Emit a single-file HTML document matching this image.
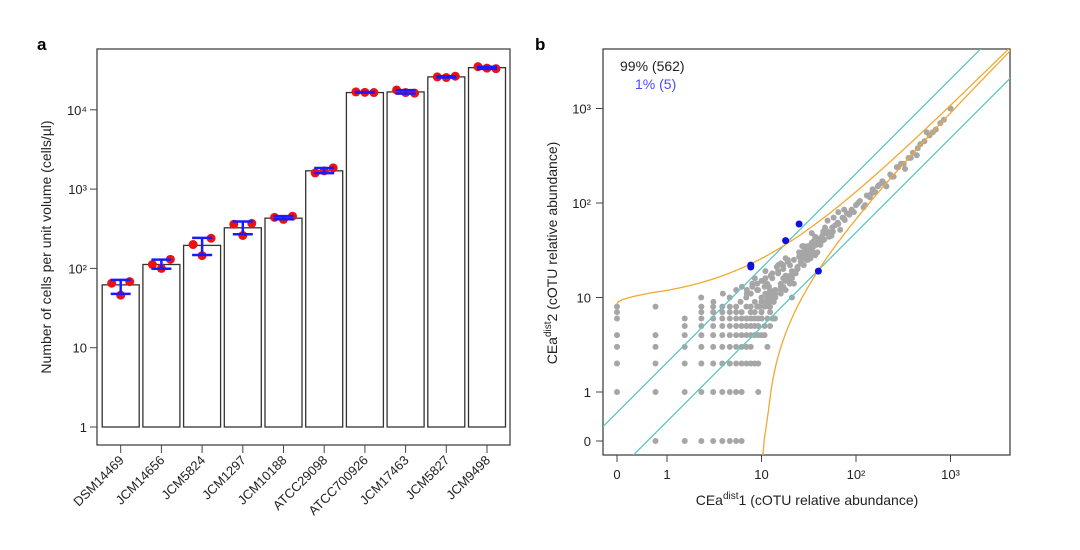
<!DOCTYPE html>
<html><head><meta charset="utf-8">
<style>
html,body{margin:0;padding:0;background:#fff;}
svg{display:block;font-family:"Liberation Sans",Arial,sans-serif;}
</style></head>
<body>
<svg id="fig" width="1080" height="550" viewBox="0 0 1080 550">
<text x="37" y="50" font-size="17" font-weight="bold">a</text>
<text x="535" y="50" font-size="17" font-weight="bold">b</text>
<g id="pa"></g>
<g id="pb"></g>
</svg>
<script>
// ---------- Panel A data ----------
const strains = ["DSM14469","JCM14656","JCM5824","JCM1297","JCM10188","ATCC29098","ATCC700926","JCM17463","JCM5827","JCM9498"];
const barValues = [62,112,195,325,430,1700,16500,16800,26000,34000];
const rep1 = [65,112,200,360,440,1600,16800,17800,26000,35000];
const rep2 = [68,130,240,370,455,1850,16500,16200,26500,33000];
const rep3 = [46,100,145,260,415,1700,16600,16500,25500,33500];
const yTicksA = [1,10,100,1000,10000];
const yTickLabelsA = ["1","10","10²","10³","10⁴"];

// ---------- Panel B data ----------
const bTicks = [0,1,10,100,1000];
const bTickLabels = ["0","1","10","10²","10³"];
const gridRowsY = [0,1,2,3,4,5,6,7,8];
const gridCols = [
 [1,2,3,4,5,6,7,8],
 [0,1,2,3,4,5,6,7,8,12],
 [0,1,2,3,4,5,6,7,8,9,10,11,12],
 [0,1,2,3,4,5,6,7,8,9,10,15],
 [0,1,2,3,4,5,6,7,8,9,10,11,12,13,14],
 [2,3,4,5,6,7,8,9,10,11,12,14,16],
 [0,2,3,4,5,6,7,8,9,10,11,12,13,15,17,18],
 [0,3,4,5,6,7,8,10,11,13,16],
 [0,1,3,4,5,6,7,9,10,12,14,16]
];
const gridStep = 0.77;
const cloudX = [2.3,3.1,3.9,4.6,5.4,6.2,6.9,7.7,8.5,9.2,10,10.8,11.5,12.3,13,
 6,7,8,9,10,11,12,13,14,15,16,17,18,19,20,21,22,23,24,25,26,27,28,29,30,31,32,33,34,35,36,
 38,40,42,44,46,48,50,53,56,60,64,68,72,76,80,85,90,95,100,
 110,120,130,140,150,160,175,190,210,230,250,270,300,330,360,400,440,480,530,600,650,700,780,850,1000,
 12,14,16,18,20,22,24,15,17,19,21,9,11,13,25,28,31,34,37,
 45,55,65,75,90,105,125,145,170,200,240,280,320,380,450,560,
 8,9,10,11,12,13,14,15,16,17,18,19,20,22,24,26,28,30,32,35,38,
 9.5,10.5,11.5,12.5,13.5,14.5,16,18,20,23,26,29,33,37,42,47,52,58,
 7,8.5,10,11,12,14,16,17,19,21,24,27,30,34,39,44,50,57,65,75];
const cloudY = [10,9,11,10,12,13,10,11,9,12,10,13,14,12,10,
 9,11,14,12,15,11,13,16,12,18,14,20,17,15,22,19,25,18,21,27,24,30,26,33,28,35,31,29,38,34,40,
 36,42,39,45,41,48,50,47,55,58,62,52,70,66,78,75,85,80,95,
 105,90,120,115,140,130,155,170,150,200,190,240,260,230,300,340,320,420,450,520,560,600,700,760,1000,
 9,12,11,15,17,14,20,22,16,24,10,8,9,11,30,35,25,32,28,
 50,45,60,68,82,100,95,125,150,160,190,240,260,300,380,560,
 13,14,9,16,8,18,11,19,13,22,12,24,15,18,20,28,22,25,33,30,40,
 8,15,10,17,9,21,12,26,14,19,23,30,26,44,36,55,44,70,
 12,16,7,19,11,10,23,13,25,16,20,35,28,48,30,40,65,50,80,85];
const blueX = [7.7,7.7,18,25,40];
const blueY = [22,21,40,60,19];
const upperA = 2.3, upperD = 8.6, lowerA = 3.26, bandK = 2.05;

const NS="http://www.w3.org/2000/svg";
function mk(parent,tag,attrs){const e=document.createElementNS(NS,tag);for(const k in attrs)e.setAttribute(k,attrs[k]);parent.appendChild(e);return e;}

// ===== Panel A =====
(function(){
 const g=document.getElementById('pa');
 const L=97,R=510,T=49,B=445;
 const yA=v=>427-79.3*Math.log10(v);
 const x0=120.7, step=40.7, bw=37;
 const xA=i=>x0+i*step;
 const fr=mk(g,'rect',{x:L,y:T,width:R-L,height:B-T,fill:'none',stroke:'#444','stroke-width':1.3});
 
 yTicksA.forEach((t,i)=>{
  const y=yA(t);
  const ln=mk(g,'line',{x1:L-7,x2:L,y1:y,y2:y,stroke:'#444','stroke-width':1});
  
  const tx=mk(g,'text',{x:L-10,y:y+5,'font-size':13,'text-anchor':'end',fill:'#222'});
  tx.textContent=yTickLabelsA[i];
  
 });
 const yt=mk(g,'text',{x:0,y:0,'font-size':14,'text-anchor':'middle',fill:'#222',transform:'translate(51,247) rotate(-90)'});
 yt.textContent='Number of cells per unit volume (cells/µl)';
 
 strains.forEach((s,i)=>{
  const cx=xA(i);
  const b=mk(g,'rect',{x:cx-bw/2,y:yA(barValues[i]),width:bw,height:yA(1)-yA(barValues[i]),fill:'#fff',stroke:'#333','stroke-width':1.3});
  
  const tk=mk(g,'line',{x1:cx,x2:cx,y1:B,y2:B+8,stroke:'#444','stroke-width':1});
  
  const lb=mk(g,'text',{x:0,y:0,'font-size':13,'text-anchor':'end',fill:'#222',transform:`translate(${cx+4},${B+16}) rotate(-45)`});
  lb.textContent=s;
  
  const reps=[rep1[i],rep2[i],rep3[i]];
  const offs=[-9,9,0];
  reps.forEach((v,j)=>{
   const c=mk(g,'circle',{cx:cx+offs[j],cy:yA(v),r:4.5,fill:'#f01010'});
   
  });
  const m=reps.reduce((a,b)=>a+b,0)/3;
  const sd=Math.sqrt(reps.reduce((a,b)=>a+(b-m)*(b-m),0)/2);
  const lo=Math.max(m-sd,1),hi=m+sd;
  const eg=mk(g,'g',{stroke:'#1a1aff','stroke-width':2.5});
  
  mk(eg,'line',{x1:cx,x2:cx,y1:yA(lo),y2:yA(hi)});
  mk(eg,'line',{x1:cx-10,x2:cx+10,y1:yA(lo),y2:yA(lo)});
  mk(eg,'line',{x1:cx-10,x2:cx+10,y1:yA(hi),y2:yA(hi)});
 });
})();

// ===== Panel B =====
(function(){
 const g=document.getElementById('pb');
 const L=603,R=1010,T=49,B=455;
 const D=94.5;
 const xB=v=>v>=1?667+D*Math.log10(v):617+50*v;
 const yB=v=>v>=1?392-D*Math.log10(v):441-49*v;
 const lx=v=>667+D*Math.log10(v), ly=v=>392-D*Math.log10(v);
 const defs=mk(g,'defs',{});
 const cp=mk(defs,'clipPath',{id:'clipb'});
 mk(cp,'rect',{x:L,y:T,width:R-L,height:B-T});
 const fr=mk(g,'rect',{x:L,y:T,width:R-L,height:B-T,fill:'none',stroke:'#444','stroke-width':1.3});
 
 bTicks.forEach((t,i)=>{
  const x=xB(t),y=yB(t);
  const a=mk(g,'line',{x1:x,x2:x,y1:B,y2:B+7,stroke:'#444'});
  
  const at=mk(g,'text',{x:x,y:B+24,'font-size':13,'text-anchor':'middle',fill:'#222'});
  at.textContent=bTickLabels[i];
  
  const b=mk(g,'line',{x1:L-7,x2:L,y1:y,y2:y,stroke:'#444'});
  
  const bt=mk(g,'text',{x:L-12,y:y+5,'font-size':13,'text-anchor':'end',fill:'#222'});
  bt.textContent=bTickLabels[i];
  
 });
 const xt=mk(g,'text',{x:807,y:505,'font-size':14,'text-anchor':'middle',fill:'#222'});
 xt.innerHTML='CEa<tspan dy="-6" font-size="10">dist</tspan><tspan dy="6">1 (cOTU relative abundance)</tspan>';
 
 const yt=mk(g,'text',{x:0,y:0,'font-size':14,'text-anchor':'middle',fill:'#222',transform:'translate(557,253) rotate(-90)'});
 yt.innerHTML='CEa<tspan dy="-6" font-size="10">dist</tspan><tspan dy="6">2 (cOTU relative abundance)</tspan>';
 
 const pg=mk(g,'g',{'clip-path':'url(#clipb)'});
 
 gridRowsY.forEach((yv,r)=>{
  gridCols[r].forEach(k=>{
   const c=mk(pg,'circle',{cx:xB(k*gridStep),cy:yB(yv),r:3,fill:'#a6a6a6'});
   
  });
 });
 cloudX.forEach((xv,i)=>{
  if(cloudY[i]===undefined)return;
  const c=mk(pg,'circle',{cx:xB(xv),cy:yB(cloudY[i]),r:3,fill:'#a6a6a6'});
  
 });
 [bandK,1/bandK].forEach((k,i)=>{
  const ln=mk(pg,'line',{x1:lx(0.05),y1:ly(0.05*k),x2:lx(20000),y2:ly(20000*k),stroke:'#5cc8c4','stroke-width':1.3});
  
 });
 let pu='',pl='';
 for(let i=0;i<=400;i++){
  const xv=i<40?i*0.025:Math.pow(10,(i-40)/360*3.8);
  const yu=xv+upperA*Math.sqrt(xv)+upperD;
  pu+=(i?'L':'M')+xB(xv).toFixed(1)+','+yB(yu).toFixed(1);
 }
 for(let i=0;i<=400;i++){
  const xv=10.6*Math.pow(10,i/400*2.7);
  const yl=xv-lowerA*Math.sqrt(xv);
  if(yl<=0)continue;
  pl+=(pl?'L':'M')+xB(xv).toFixed(1)+','+yB(yl).toFixed(1);
 }
 const ou=mk(pg,'path',{d:pu,fill:'none',stroke:'#f0a830','stroke-width':1.3});
 
 const ol=mk(pg,'path',{d:'M'+xB(10.3)+','+(B+2)+'L'+pl.slice(1),fill:'none',stroke:'#f0a830','stroke-width':1.3});
 
 blueX.forEach((xv,i)=>{
  const c=mk(pg,'circle',{cx:xB(xv),cy:yB(blueY[i]),r:3.5,fill:'#1010e0'});
  
 });
 const t1=mk(g,'text',{x:620,y:71,'font-size':14,fill:'#222'});
 t1.textContent='99% (562)';
 
 const t2=mk(g,'text',{x:635,y:89,'font-size':14,fill:'#4a4aff'});
 t2.textContent='1% (5)';
 
})();
</script>
</body></html>
